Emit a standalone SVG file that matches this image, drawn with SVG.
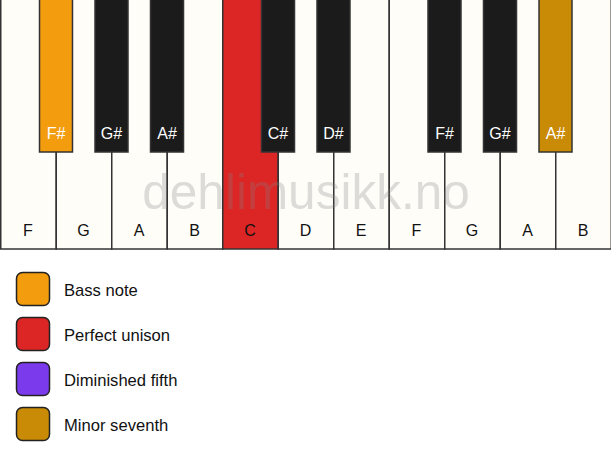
<svg xmlns="http://www.w3.org/2000/svg" width="611" height="461" viewBox="0 0 611 461">
<style>
.w{fill:#fffdf8;stroke:#333;stroke-width:1.5}
.b{fill:#1b1b1b;stroke:#333;stroke-width:1.5}
.wl{font-family:"Liberation Sans",Arial,sans-serif;font-size:16px;fill:#111;text-anchor:middle}
.bl{font-family:"Liberation Sans",Arial,sans-serif;font-size:16px;fill:#fff;text-anchor:middle}
.lg{stroke:#222;stroke-width:1.5}
.lt{font-family:"Liberation Sans",Arial,sans-serif;font-size:16.6px;fill:#111}
.wm{font-family:"Liberation Sans",Arial,sans-serif;font-size:49.5px;fill:#808080;fill-opacity:0.27;text-anchor:middle}
</style>
<rect width="611" height="461" fill="#ffffff"/>
<g id="white-keys">
<g id="key-F1"><rect class="w" x="0.75" y="-1" width="55.5" height="250"/><text class="wl" x="28" y="236">F</text></g>
<g id="key-G1"><rect class="w" x="56.25" y="-1" width="55.5" height="250"/><text class="wl" x="83.5" y="236">G</text></g>
<g id="key-A1"><rect class="w" x="111.75" y="-1" width="55.5" height="250"/><text class="wl" x="139" y="236">A</text></g>
<g id="key-B1"><rect class="w" x="167.25" y="-1" width="55.5" height="250"/><text class="wl" x="194.5" y="236">B</text></g>
<g id="key-C"><rect class="w" x="222.75" y="-1" width="55.5" height="250" style="fill:#dc2626"/><text class="wl" x="250" y="236">C</text></g>
<g id="key-D"><rect class="w" x="278.25" y="-1" width="55.5" height="250"/><text class="wl" x="305.5" y="236">D</text></g>
<g id="key-E"><rect class="w" x="333.75" y="-1" width="55.5" height="250"/><text class="wl" x="361" y="236">E</text></g>
<g id="key-F2"><rect class="w" x="389.25" y="-1" width="55.5" height="250"/><text class="wl" x="416.5" y="236">F</text></g>
<g id="key-G2"><rect class="w" x="444.75" y="-1" width="55.5" height="250"/><text class="wl" x="472" y="236">G</text></g>
<g id="key-A2"><rect class="w" x="500.25" y="-1" width="55.5" height="250"/><text class="wl" x="527.5" y="236">A</text></g>
<g id="key-B2"><rect class="w" x="555.75" y="-1" width="55.5" height="250"/><text class="wl" x="583" y="236">B</text></g>
</g>
<text class="wm" x="306" y="209">dehlimusikk.no</text>
<g id="black-keys">
<g id="key-Fs1"><rect class="b" x="39.5" y="-1" width="33" height="153" style="fill:#f39c0e"/><text class="bl" x="56" y="139">F#</text></g>
<g id="key-Gs1"><rect class="b" x="95" y="-1" width="33" height="153"/><text class="bl" x="111.5" y="139">G#</text></g>
<g id="key-As1"><rect class="b" x="150.5" y="-1" width="33" height="153"/><text class="bl" x="167" y="139">A#</text></g>
<g id="key-Cs"><rect class="b" x="261.5" y="-1" width="33" height="153"/><text class="bl" x="278" y="139">C#</text></g>
<g id="key-Ds"><rect class="b" x="317" y="-1" width="33" height="153"/><text class="bl" x="333.5" y="139">D#</text></g>
<g id="key-Fs2"><rect class="b" x="428" y="-1" width="33" height="153"/><text class="bl" x="444.5" y="139">F#</text></g>
<g id="key-Gs2"><rect class="b" x="483.5" y="-1" width="33" height="153"/><text class="bl" x="500" y="139">G#</text></g>
<g id="key-As2"><rect class="b" x="539" y="-1" width="33" height="153" style="fill:#c98a05"/><text class="bl" x="555.5" y="139">A#</text></g>
</g>
<g id="legend">
<g id="legend-bass"><rect class="lg" x="16.5" y="272.5" width="33" height="33" rx="6" fill="#f39c0e"/><text class="lt" x="64" y="295.5">Bass note</text></g>
<g id="legend-unison"><rect class="lg" x="16.5" y="317.5" width="33" height="33" rx="6" fill="#dc2626"/><text class="lt" x="64" y="340.5">Perfect unison</text></g>
<g id="legend-fifth"><rect class="lg" x="16.5" y="362.5" width="33" height="33" rx="6" fill="#7c3aed"/><text class="lt" x="64" y="385.5">Diminished fifth</text></g>
<g id="legend-seventh"><rect class="lg" x="16.5" y="407.5" width="33" height="33" rx="6" fill="#c98a05"/><text class="lt" x="64" y="430.5">Minor seventh</text></g>
</g>
<g id="connectors"/>
</svg>
